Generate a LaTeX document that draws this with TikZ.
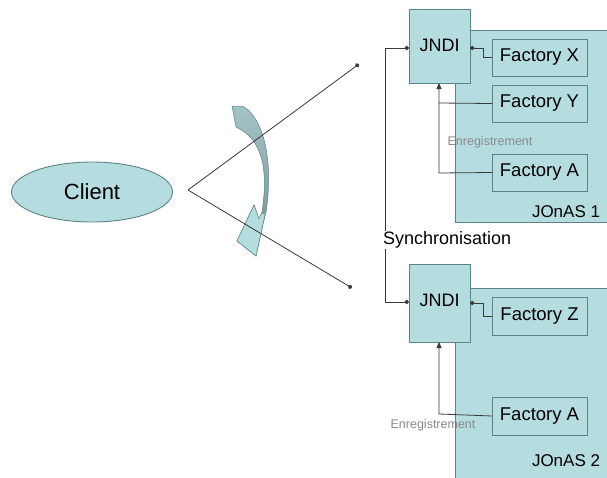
\documentclass[tikz,border=0pt]{standalone}
\usepackage{fontspec}
\setmainfont{Liberation Sans}
\usetikzlibrary{arrows.meta,shapes.geometric}
\definecolor{boxfill}{HTML}{B5DCDF}
\definecolor{boxline}{HTML}{5A8587}
\definecolor{wire}{HTML}{3A3A3A}
\definecolor{regtext}{HTML}{8A8A8A}
\definecolor{bandA}{HTML}{A5C4C8}
\definecolor{bandB}{HTML}{78898D}
\begin{document}
\begin{tikzpicture}[x=1pt,y=-1pt,
  every node/.style={inner sep=0pt,outer sep=0pt},
  server/.style={draw=boxline,fill=boxfill,line width=0.9pt},
  jndibox/.style={draw=boxline,fill=boxfill,line width=0.9pt,minimum width=61pt,minimum height=74pt,font=\fontsize{18}{20}\selectfont},
  factbox/.style={draw=boxline,fill=boxfill,line width=0.9pt,minimum width=95pt,minimum height=37pt,font=\fontsize{18.5}{20}\selectfont},
  wireline/.style={draw=wire,line width=0.8pt},
  dotarrow/.style={wireline,-{Circle[length=4.5pt]}},
  triarrow/.style={wireline,-{Triangle[length=6pt,width=5pt]}},
  regstyle/.style={text=regtext,font=\fontsize{12.5}{14}\selectfont},
  lbl/.style={font=\fontsize{18}{20}\selectfont}]
\useasboundingbox (0,0) rectangle (607,477);
\fill[white] (0,0) rectangle (607,477);
\clip (0,0) rectangle (607,477);

% Servers
\node[server,minimum width=170pt,minimum height=192pt,anchor=north west] (s1) at (455,30) {};
\node[server,minimum width=170pt,minimum height=200pt,anchor=north west] (s2) at (455,288) {};
\node[lbl,anchor=west,font=\fontsize{17}{19}\selectfont] (s1l) at (532,212) {JOnAS 1};
\node[lbl,anchor=west,font=\fontsize{17}{19}\selectfont] (s2l) at (532,461) {JOnAS 2};

% JNDI boxes
\node[jndibox,anchor=north west] (j1) at (409,9) {};
\node[lbl] at (439.5,45) {JNDI};
\node[jndibox,anchor=north west,minimum height=78pt] (j2) at (409,264) {};
\node[lbl] at (439.5,300) {JNDI};

% Factories
\node[factbox,anchor=north west] (fx) at (492,39) {Factory X};
\node[factbox,anchor=north west] (fy) at (492,85) {Factory Y};
\node[factbox,anchor=north west] (fa1) at (492,154) {Factory A};
\node[factbox,anchor=north west,minimum height=38pt] (fz) at (492,297) {Factory Z};
\node[factbox,anchor=north west,minimum height=38pt] (fa2) at (492,397) {Factory A};

% Client
\node[ellipse,draw=boxline,fill=boxfill,line width=0.9pt,minimum width=161pt,minimum height=60pt,font=\fontsize{22}{24}\selectfont] (cl) at (92,192) {Client};

% Curved block arrow
\shade[top color=bandA,bottom color=bandB,draw=boxline,line width=0.5pt]
  (232,106) -- (242,106)
  .. controls (263,116) and (274,160) .. (266,212)
  -- (263,224) -- (256,256) -- (237,241) -- (254,205) -- (259,219) -- (262,212)
  .. controls (268,172) and (264,140) .. (236,127) -- cycle;
\fill[boxfill] (263,224) -- (256,256) -- (237,241) -- (254,205) -- (259,219) -- (262,214) -- (265,214) -- cycle;
\draw[boxline,line width=0.5pt] (265,214) -- (263,224) -- (256,256) -- (237,241) -- (254,205) -- (259,219);

% Client rays
\coordinate (cs) at (188,190);
\coordinate (e1) at (359,64);
\coordinate (e2) at (352,288);
\draw[dotarrow] (cs) -- (e1);
\draw[dotarrow] (cs) -- (e2);

% Factory connectors, JOnAS 1
\coordinate (xk1) at (483,57.5);
\coordinate (xk2) at (483,48);
\draw[dotarrow] (fx.west) -- (xk1) -- (xk2) -- (j1.east |- xk2);
\coordinate (bk) at (439,103);
\draw[triarrow] (fy.west) -- (bk) -- (bk |- j1.south);
\coordinate (ak) at (439,173);
\draw[wireline] (fa1.west) -- (ak) -- (bk);

% Factory connectors, JOnAS 2
\coordinate (zk1) at (483,316);
\coordinate (zk2) at (483,303);
\draw[dotarrow] (fz.west) -- (zk1) -- (zk2) -- (j2.east |- zk2);
\coordinate (ak2) at (439,414);
\draw[triarrow] (fa2.west) -- (ak2) -- (ak2 |- j2.south);

% Synchronisation
\coordinate (sy1) at (385,48);
\coordinate (sy2) at (385,302);
\draw[dotarrow] (sy2) -- (sy1) -- (j1.west |- sy1);
\draw[dotarrow] (sy1) -- (sy2) -- (j2.west |- sy2);
\node[lbl,fill=white,anchor=west,inner sep=1pt] (syl) at (382,240) {Synchronisation};

% Registration labels
\node[regstyle] (r1) at (490,142) {Enregistrement};
\node[regstyle] (r2) at (433,425) {Enregistrement};
\end{tikzpicture}
\end{document}
